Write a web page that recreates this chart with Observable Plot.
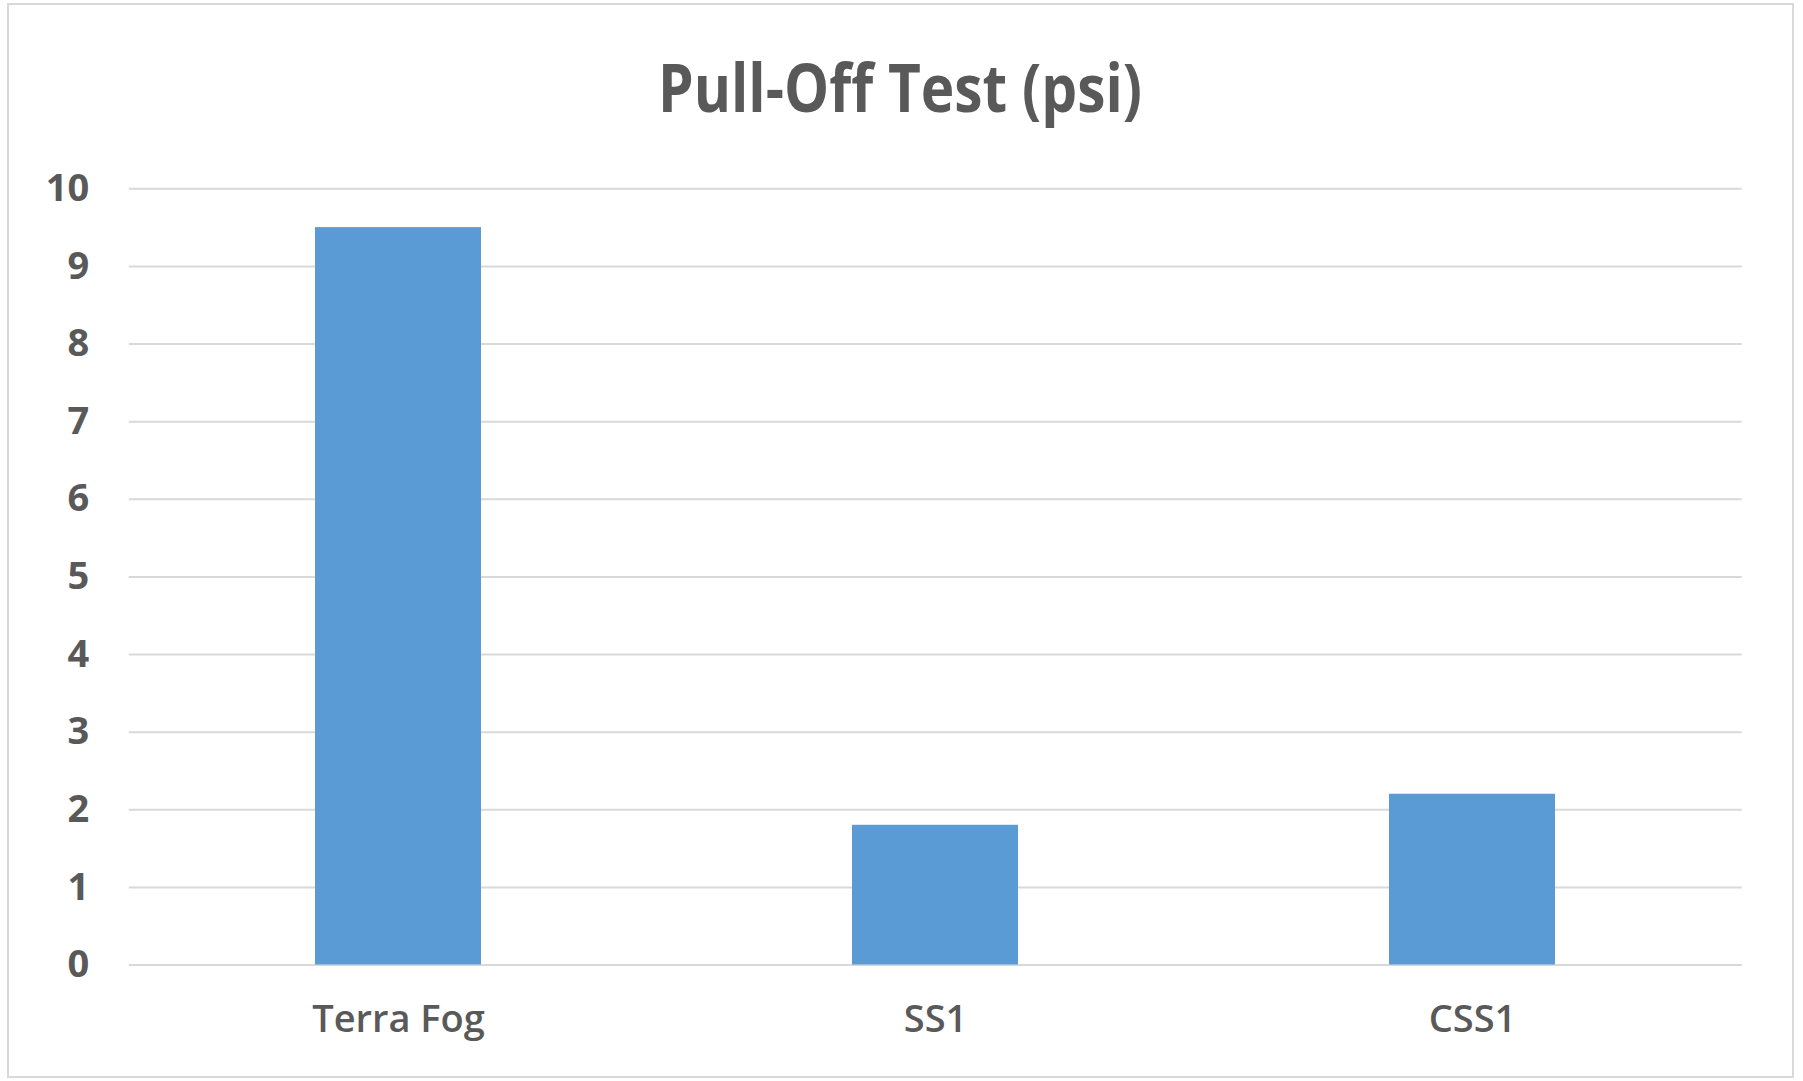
<!DOCTYPE html>
<html>
<head>
<meta charset="utf-8">
<script src="https://cdn.jsdelivr.net/npm/d3@7"></script>
<script src="https://cdn.jsdelivr.net/npm/@observablehq/plot@0.6"></script>
<style>
  html, body { margin: 0; padding: 0; background: #ffffff; }
  body { width: 1803px; height: 1081px; overflow: hidden; position: relative; font-family: "Open Sans", sans-serif; }
  #frame { position: absolute; left: 7px; top: 3px; width: 1787px; height: 1075px; box-sizing: border-box; border: 2px solid #d9d9d9; pointer-events: none; }
  #title { height: 150px; position: relative; }
  #title span { position: absolute; left: 900px; top: 0; white-space: nowrap; font-size: 66px; font-weight: 700; color: #595959; line-height: 1; transform-origin: 0 0; }
  #chart svg { display: block; }
</style>
</head>
<body>
<div id="title"><span id="tt">Pull-Off Test (psi)</span></div>
<div id="chart"></div>
<div id="frame"></div>
<script>
const categories = ["Terra Fog", "SS1", "CSS1"];
const values = [9.5, 1.8, 2.2];
const yTicks = [0, 1, 2, 3, 4, 5, 6, 7, 8, 9, 10];

const data = categories.map((c, i) => ({category: c, value: values[i]}));

const chart = Plot.plot({
  width: 1803,
  height: 931,
  marginTop: 38.3,
  marginBottom: 116.5,
  marginLeft: 128.8,
  marginRight: 61.3,
  style: {background: "#ffffff", color: "#595959", fontFamily: "Open Sans, sans-serif"},
  x: {domain: categories, paddingInner: 0.69, paddingOuter: 0.345, label: null},
  y: {domain: [0, 10], label: null},
  marks: [
    Plot.gridY(yTicks, {stroke: "#d9d9d9", strokeOpacity: 1, strokeWidth: 2}),
    Plot.barY(data, {x: "category", y: "value", fill: "#5b9bd5"}),
    Plot.axisY(yTicks, {tickSize: 0, tickPadding: 40, fontSize: 38, fontWeight: 700, fill: "#595959", label: null, tickFormat: d => String(d)}),
    Plot.axisX({tickSize: 0, tickPadding: 40, fontSize: 38, fontWeight: 600, fill: "#595959", label: null})
  ]
});
document.getElementById("chart").appendChild(chart);

// Fit the title to the reference width (484px), centred at x=900, baseline at y=112
const tt = document.getElementById("tt");
const titleW = tt.getBoundingClientRect().width;
const titleScale = 484 / titleW;
const titleFs = 66;
const titleTop = 112 - 0.888 * titleFs;
tt.style.top = titleTop + "px";
tt.style.left = (900 - 242) + "px";
tt.style.transform = "scaleX(" + titleScale + ")";
</script>
</body>
</html>
